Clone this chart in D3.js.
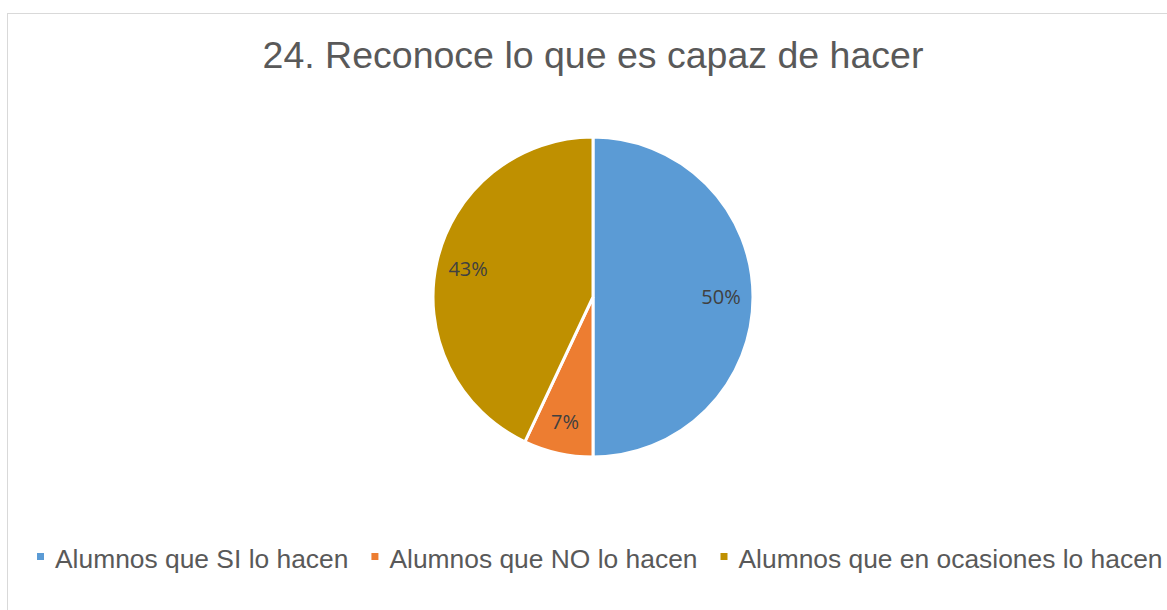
<!DOCTYPE html>
<html>
<head>
<meta charset="utf-8">
<script src="https://cdn.jsdelivr.net/npm/d3@7"></script>
<style>
  body { margin: 0; background: #fff; }
  text { font-family: "Liberation Sans", Arial, sans-serif; }
</style>
</head>
<body>
<div id="chart"></div>
<script>
// data
var categories = ["Alumnos que SI lo hacen", "Alumnos que NO lo hacen", "Alumnos que en ocasiones lo hacen"],
    values = [50, 7, 43],
    labels = ["50%", "7%", "43%"],
    colors = ["#5B9BD5", "#ED7D31", "#BF9000"],
    title = "24. Reconoce lo que es capaz de hacer"

var width = 1167, height = 610,
    cx = 593, cy = 297, radius = 160

var svg = d3.select("#chart")
  .append("svg")
    .attr("width", width)
    .attr("height", height)

// chart border
svg.append("rect")
  .attr("x", 7.5).attr("y", 13.5)
  .attr("width", width + 10).attr("height", height + 10)
  .style("fill", "none")
  .style("stroke", "#d9d9d9")
  .style("stroke-width", 1)

// title
svg.append("text")
  .attr("x", cx).attr("y", 68)
  .attr("text-anchor", "middle")
  .style("font-size", "37.5px")
  .style("fill", "#595959")
  .text(title)

var pie = d3.pie().sort(null).value(function (d) { return d; })
var arc = d3.arc().innerRadius(0).outerRadius(radius)
var labelArc = d3.arc().innerRadius(radius * 0.8).outerRadius(radius * 0.8)

var g = svg.append("g")
  .attr("transform", "translate(" + cx + "," + cy + ")")

var slices = pie(values)

g.selectAll("path")
  .data(slices)
  .enter()
  .append("path")
    .attr("d", arc)
    .style("fill", function (d, i) { return colors[i]; })
    .style("stroke", "#fff")
    .style("stroke-width", 3)

g.selectAll(".lbl")
  .data(slices)
  .enter()
  .append("text")
    .attr("class", "lbl")
    .attr("transform", function (d) { return "translate(" + labelArc.centroid(d) + ")"; })
    .attr("dy", "0.35em")
    .attr("text-anchor", "middle")
    .style("font-family", "'Open Sans', sans-serif")
    .style("font-size", "20px")
    .style("fill", "#404040")
    .text(function (d, i) { return labels[i]; })

// legend
var legend = svg.append("g")
var lx = 37
categories.forEach(function (c, i) {
  legend.append("rect")
    .attr("x", lx).attr("y", 553)
    .attr("width", 7).attr("height", 7)
    .style("fill", colors[i])
  var t = legend.append("text")
    .attr("x", lx + 18).attr("y", 568)
    .style("font-size", "26.4px")
    .style("fill", "#595959")
    .text(c)
  lx += 18 + t.node().getComputedTextLength() + 23
})
</script>
</body>
</html>
